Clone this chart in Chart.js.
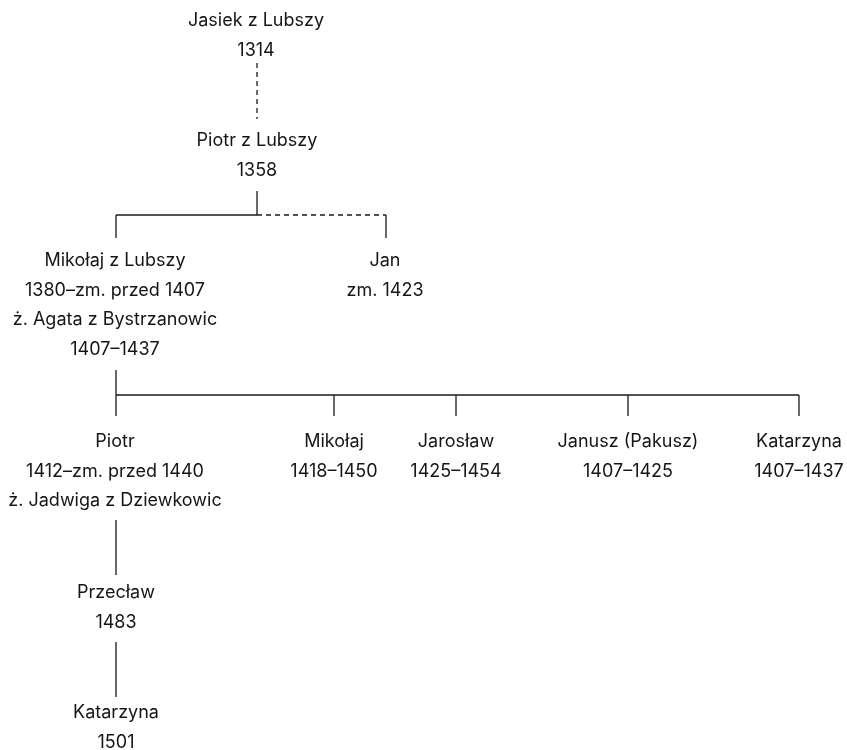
<!DOCTYPE html>
<html>
<head>
<meta charset="utf-8">
<script src="https://cdn.jsdelivr.net/npm/chart.js@4"></script>
<style>
  body { margin: 0; background: #fff; }
  #wrap { width: 847px; height: 750px; }
</style>
</head>
<body>
<div id="wrap"><canvas id="tree"></canvas></div>
<script>
// Persons (text lines) and their centre positions
const nodeText = [
  ['Jasiek z Lubszy', '1314'],
  ['Piotr z Lubszy', '1358'],
  ['Mikołaj z Lubszy', '1380–zm. przed 1407', 'ż. Agata z Bystrzanowic', '1407–1437'],
  ['Jan', 'zm. 1423'],
  ['Piotr', '1412–zm. przed 1440', 'ż. Jadwiga z Dziewkowic'],
  ['Mikołaj', '1418–1450'],
  ['Jarosław', '1425–1454'],
  ['Janusz (Pakusz)', '1407–1425'],
  ['Katarzyna', '1407–1437'],
  ['Przecław', '1483'],
  ['Katarzyna', '1501']
];
const nodeX = [256, 257, 115, 385, 115, 334, 456, 628, 799, 116, 116];
const nodeY = [21, 141, 261, 261, 442, 442, 442, 442, 442, 593, 713];
const lineStep = 29.5;

// Connector segments: [x1, y1, x2, y2]
const solidLinks = [
  [257, 191, 257, 215], [116, 215, 257, 215], [116, 215, 116, 238],
  [386, 215, 386, 238],
  [116, 370, 116, 395], [116, 395, 799, 395],
  [116, 395, 116, 416], [334, 395, 334, 416], [456, 395, 456, 416],
  [628, 395, 628, 416], [799, 395, 799, 416],
  [116, 520, 116, 575], [116, 642, 116, 697]
];
const dashedLinks = [
  [257, 63, 257, 119], [257, 215, 386, 215]
];

const datasets = [];
solidLinks.forEach(s => datasets.push({
  data: [{x: s[0], y: s[1]}, {x: s[2], y: s[3]}],
  showLine: true, borderColor: '#1a1a1a', borderWidth: 1.3, pointRadius: 0
}));
dashedLinks.forEach(s => datasets.push({
  data: [{x: s[0], y: s[1]}, {x: s[2], y: s[3]}],
  showLine: true, borderColor: '#1a1a1a', borderWidth: 1.3, borderDash: [5, 4], pointRadius: 0
}));

// Draw the person labels at scale positions
const labelPlugin = {
  id: 'nodeLabels',
  afterDatasetsDraw(chart) {
    const ctx = chart.ctx;
    const xs = chart.scales.x, ys = chart.scales.y;
    ctx.save();
    ctx.fillStyle = '#151515';
    ctx.font = '18px Inter, "Open Sans", sans-serif';
    ctx.textAlign = 'center';
    ctx.textBaseline = 'middle';
    nodeText.forEach((lines, i) => {
      lines.forEach((t, j) => {
        ctx.fillText(t, xs.getPixelForValue(nodeX[i]), ys.getPixelForValue(nodeY[i] + j * lineStep));
      });
    });
    ctx.restore();
  }
};

new Chart(document.getElementById('tree'), {
  type: 'scatter',
  data: { datasets: datasets },
  options: {
    responsive: true,
    maintainAspectRatio: false,
    animation: false,
    layout: { padding: 0 },
    plugins: { legend: { display: false }, tooltip: { enabled: false } },
    scales: {
      x: { type: 'linear', min: 0, max: 847, display: false },
      y: { type: 'linear', min: 0, max: 750, reverse: true, display: false }
    }
  },
  plugins: [labelPlugin]
});
</script>
</body>
</html>
